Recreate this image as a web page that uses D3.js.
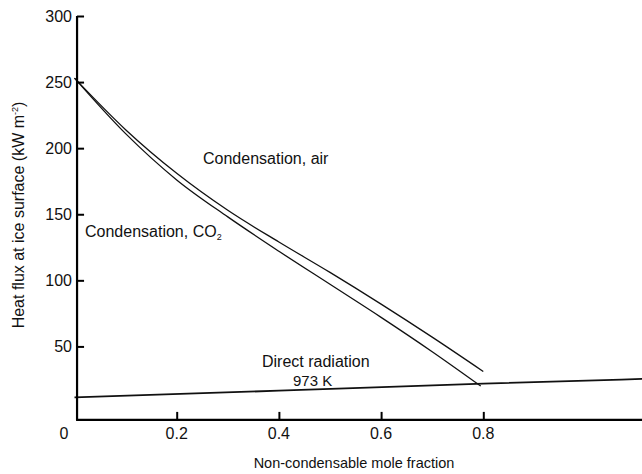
<!DOCTYPE html>
<html>
<head>
<meta charset="utf-8">
<script src="https://cdn.jsdelivr.net/npm/d3@7"></script>
<style>
  body { margin: 0; background: #fff; }
  svg text { font-family: "Liberation Sans", Arial, sans-serif; fill: #111; }
</style>
</head>
<body>
<svg id="plot" width="642" height="474"></svg>
<script>
// mole fraction vs heat flux (kW m-2)
const airX = [0, 0.1, 0.2, 0.3, 0.4, 0.5, 0.6, 0.7, 0.8];
const airY = [253, 214, 181, 153, 129, 106, 82, 57, 31];
const co2X = [0, 0.1, 0.2, 0.3, 0.4, 0.5, 0.6, 0.7, 0.795];
const co2Y = [253, 211, 176, 148, 122, 97, 72, 46, 20];
const radX = [0, 0.4, 0.8, 1.12];
const radY = [11.5, 16.5, 21.8, 25.5];
const xTicks = [0.2, 0.4, 0.6, 0.8];
const yTicks = [50, 100, 150, 200, 250, 300];

const svg = d3.select("#plot");
const x = d3.scaleLinear([0, 1], [74.5, 585.5]);
const y = d3.scaleLinear([0, 300], [412.5, 16]);
const axisX = x(0.005);
const axisY = y(-5.6);

const line = d3.line().x((d) => x(d[0])).y((d) => y(d[1])).curve(d3.curveMonotoneX);
const series = [
  d3.zip(airX, airY),
  d3.zip(co2X, co2Y),
  d3.zip(radX, radY),
];
svg.append("g")
  .selectAll("path")
  .data(series)
  .join("path")
  .attr("d", line)
  .attr("fill", "none")
  .attr("stroke", "#111")
  .attr("stroke-width", (d, i) => (i === 2 ? 1.8 : 1.3));

// y axis, ticks pointing inward
const gy = svg.append("g")
  .attr("transform", `translate(${axisX},0)`)
  .call(d3.axisRight(y).tickValues(yTicks).tickSize(7).tickFormat(""));
gy.select(".domain").remove();
gy.selectAll("line").attr("stroke", "#000").attr("stroke-width", 2);
svg.append("line")
  .attr("x1", axisX).attr("x2", axisX)
  .attr("y1", y(300)).attr("y2", axisY)
  .attr("stroke", "#000").attr("stroke-width", 2.2);
svg.append("g")
  .selectAll("text")
  .data(yTicks)
  .join("text")
  .attr("x", 72)
  .attr("y", (d) => y(d))
  .attr("dy", "0.35em")
  .attr("text-anchor", "end")
  .attr("font-size", 16)
  .text((d) => d);

// x axis, ticks pointing up
const gx = svg.append("g")
  .attr("transform", `translate(0,${axisY})`)
  .call(d3.axisTop(x).tickValues(xTicks).tickSize(8).tickFormat(""));
gx.select(".domain").remove();
gx.selectAll("line").attr("stroke", "#000").attr("stroke-width", 2);
svg.append("line")
  .attr("x1", axisX - 1).attr("x2", 642)
  .attr("y1", axisY).attr("y2", axisY)
  .attr("stroke", "#000").attr("stroke-width", 2.2);
svg.append("g")
  .selectAll("text")
  .data([0].concat(xTicks))
  .join("text")
  .attr("x", (d) => (d === 0 ? 64 : x(d)))
  .attr("y", 433)
  .attr("dy", "0.35em")
  .attr("text-anchor", "middle")
  .attr("font-size", 16)
  .text((d) => d);

// axis titles
svg.append("text")
  .attr("x", 354)
  .attr("y", 468)
  .attr("text-anchor", "middle")
  .attr("font-size", 14.5)
  .text("Non-condensable mole fraction");

const yt = svg.append("text")
  .attr("transform", "translate(24,215) rotate(-90)")
  .attr("text-anchor", "middle")
  .attr("font-size", 16);
yt.append("tspan").text("Heat flux at ice surface (kW m");
yt.append("tspan").attr("font-size", 9).attr("dy", -6).text("-2");
yt.append("tspan").attr("dy", 6).text(")");

// annotations
svg.append("text")
  .attr("x", 203).attr("y", 164)
  .attr("font-size", 16)
  .text("Condensation, air");

const co2 = svg.append("text")
  .attr("x", 85).attr("y", 237)
  .attr("font-size", 16);
co2.append("tspan").text("Condensation, CO");
co2.append("tspan").attr("font-size", 9).attr("dy", 3).text("2");

svg.append("text")
  .attr("x", 262).attr("y", 367)
  .attr("font-size", 16)
  .text("Direct radiation");
svg.append("text")
  .attr("x", 293).attr("y", 386)
  .attr("font-size", 15)
  .text("973 K");
</script>
</body>
</html>
